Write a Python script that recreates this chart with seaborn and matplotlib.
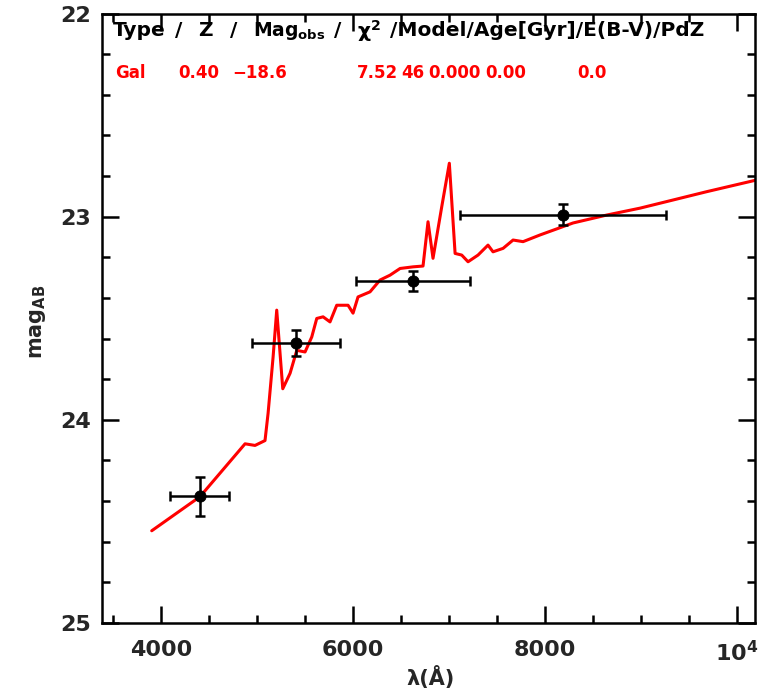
import matplotlib
matplotlib.use("Agg")
import matplotlib.pyplot as plt
import numpy as np
import pandas as pd
import seaborn as sns
from matplotlib.ticker import MultipleLocator, FixedLocator, FixedFormatter

# Best-fit galaxy template (wavelength in Angstrom, AB magnitude)
model_wave = [3903, 4406, 4875, 4979, 5083, 5115, 5167, 5205, 5268, 5344, 5414,
              5500, 5570, 5622, 5688, 5760, 5830, 5948, 6000, 6052, 6177, 6281,
              6385, 6490, 6625, 6729, 6781, 6833, 6924, 7003, 7063, 7132, 7198,
              7302, 7406, 7458, 7563, 7667, 7771, 7948, 8292, 8643, 8990, 9333,
              9684, 10208]
model_mag = [24.546, 24.378, 24.118, 24.126, 24.102, 23.968, 23.692, 23.460,
             23.847, 23.771, 23.658, 23.666, 23.592, 23.501, 23.493, 23.518,
             23.436, 23.436, 23.475, 23.395, 23.370, 23.312, 23.288, 23.255,
             23.247, 23.243, 23.025, 23.205, 22.951, 22.737, 23.181, 23.189,
             23.222, 23.189, 23.140, 23.173, 23.156, 23.115, 23.123, 23.090,
             23.031, 22.992, 22.958, 22.918, 22.877, 22.819]

# Observed photometry
obs_wave = [4405, 5406, 6622, 8184]
obs_wave_err = [307, 460, 594, 1073]
obs_mag = [24.375, 23.622, 23.315, 22.99]
obs_mag_err = [0.096, 0.063, 0.05, 0.053]

# Fit summary: column headers and the values of the best fit
header_parts = ["Type", "/", "Z", "/", "Mag$_{\\rm obs}$", "/", "$\\chi^2$",
                "/Model/Age[Gyr]/E(B-V)/PdZ"]
header_xpos = [113, 175, 198, 230, 253, 334, 357, 390]
header_size = [14.5, 14.5, 14.5, 14.5, 13.5, 14.5, 14.5, 14.5]
fit_values = ["Gal", "0.40", "\u221218.6", "7.52", "46", "0.000", "0.00", "0.0"]
fit_xpos = [115, 178, 232, 357, 401, 428, 485, 577]

x_ticks = [4000, 6000, 8000, 10000]
x_tick_labels = ["4000", "6000", "8000", "10$^{\\bf 4}$"]
y_ticks = [22, 23, 24, 25]

sns.set_style("ticks")
plt.rcParams["font.family"] = ["DejaVu Sans"]
plt.rcParams["font.weight"] = "bold"
plt.rcParams["mathtext.default"] = "bf"

W, H = 769, 694
fig = plt.figure(figsize=(W / 100, H / 100), dpi=100)
ax = fig.add_axes([102 / W, 1 - 623 / H, (755 - 102) / W, (623 - 13.5) / H])

model = pd.DataFrame({"wave": model_wave, "mag": model_mag})
sns.lineplot(data=model, x="wave", y="mag", ax=ax, color="#ff0000",
             lw=2.2, sort=False, estimator=None, zorder=2)

ax.errorbar(obs_wave, obs_mag, xerr=obs_wave_err, yerr=obs_mag_err,
            fmt="none", ecolor="black", elinewidth=1.8, capsize=3.8,
            capthick=1.8, zorder=3)
sns.scatterplot(x=obs_wave, y=obs_mag, ax=ax, color="black", s=65,
                edgecolor="black", zorder=4)

ax.set_xlim(3385, 10187)
ax.set_ylim(25, 22)

ax.xaxis.set_major_locator(FixedLocator(x_ticks))
ax.xaxis.set_major_formatter(FixedFormatter(x_tick_labels))
ax.xaxis.set_minor_locator(MultipleLocator(500))
ax.yaxis.set_major_locator(FixedLocator(y_ticks))
ax.yaxis.set_minor_locator(MultipleLocator(0.2))

ax.tick_params(which="both", direction="in", top=True, right=True,
               width=1.8, color="black")
ax.tick_params(which="major", length=12, labelsize=16)
ax.tick_params(axis="x", which="major", pad=12)
ax.tick_params(axis="y", which="major", pad=8)
ax.tick_params(which="minor", length=6)
for lab in ax.get_xticklabels() + ax.get_yticklabels():
    lab.set_fontweight("bold")
for sp in ax.spines.values():
    sp.set_linewidth(1.8)
    sp.set_color("black")

ax.set_xlabel("")
ax.set_ylabel("")
fig.text(430 / W, 1 - 678 / H, "\u03bb(\u00c5)", ha="center", va="center",
         fontsize=15, fontweight="bold")
fig.text(38 / W, 1 - 322 / H, "mag$_{\\rm AB}$", ha="center", va="center",
         rotation=90, fontsize=15, fontweight="bold")

for txt, xp, fs in zip(header_parts, header_xpos, header_size):
    fig.text(xp / W, 1 - 31 / H, txt, ha="left", va="center",
             fontsize=fs, fontweight="bold", color="black")
for txt, xp in zip(fit_values, fit_xpos):
    fig.text(xp / W, 1 - 73 / H, txt, ha="left", va="center",
             fontsize=12, fontweight="bold", color="#ff0000")

fig.savefig("out.png", dpi=100)
